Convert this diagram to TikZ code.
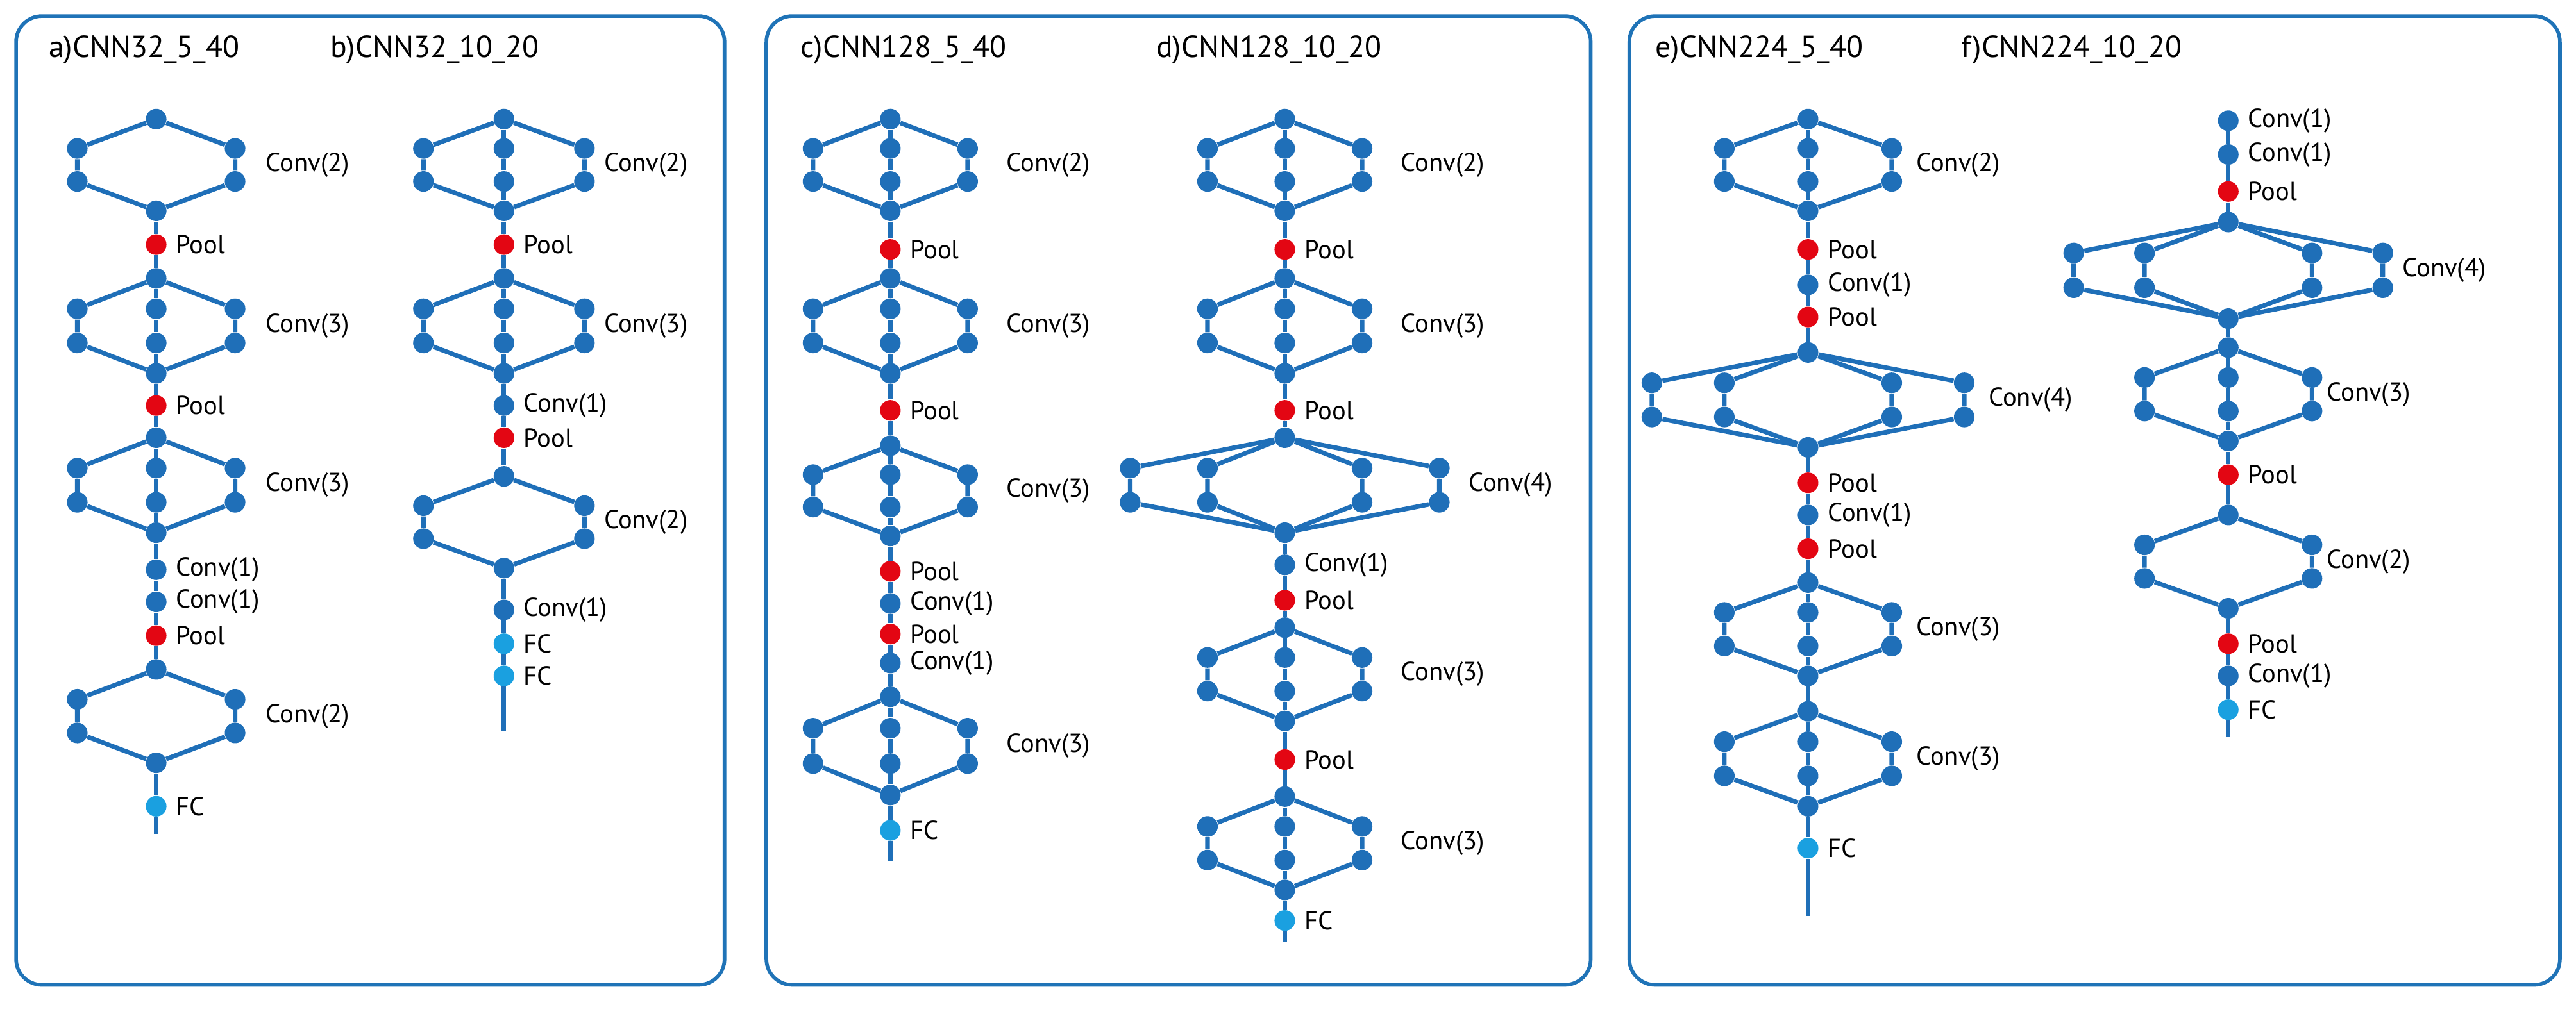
\documentclass[tikz,border=0pt]{standalone}
\usepackage{fontspec}
\setmainfont{PT Sans}
\usetikzlibrary{calc,backgrounds}
\definecolor{cb}{HTML}{1F6FB8}
\definecolor{cr}{HTML}{E30613}
\definecolor{cf}{HTML}{1AA0E0}
\definecolor{frm}{HTML}{1F73B7}
\pgfdeclarelayer{background}
\pgfsetlayers{background,main}
\tikzset{
 dot/.style={circle,fill=cb,inner sep=0,minimum size=0.32cm},
 pool/.style={dot,fill=cr},
 fc/.style={dot,fill=cf},
 edge/.style={draw=cb,line width=2pt},
 lbl/.style={inner sep=0,anchor=west,font=\fontsize{11.5}{13}\selectfont},
 ttl/.style={inner sep=0,anchor=west,font=\fontsize{13.5}{15}\selectfont},
 panel/.style={draw=frm,line width=1.6pt,rounded corners=0.4cm}
}
\def\prv{}
\newcommand\pt[5]{%
 \node[#4] (#1) at (#2,#3) {};
 \if\relax\detokenize{#5}\relax\else\node[lbl] at ($(#1)+(12,0)$) {#5};\fi
 \ifx\prv\empty\else\begin{pgfonlayer}{background}\draw[edge] (\prv) -- (#1);\end{pgfonlayer}\fi
 \xdef\prv{#1}}
% name, x, ytop, ybot, offsets, center(0/1), label, label dx
\newcommand\blk[8]{%
 \pt{#1t}{#2}{#3}{dot}{}%
 \node[dot] (#1b) at (#2,#4) {};
 \pgfmathsetmacro\ya{#3+(#4-#3)*0.32}%
 \pgfmathsetmacro\yb{#3+(#4-#3)*0.68}%
 \foreach \o [count=\i] in {#5} {
   \node[dot] (#1s\i a) at (#2+\o,\ya) {};
   \node[dot] (#1s\i b) at (#2+\o,\yb) {};
   \begin{pgfonlayer}{background}
   \draw[edge] (#1t) -- (#1s\i a) -- (#1s\i b) -- (#1b);
   \end{pgfonlayer}
 }
 \ifnum#6=1
   \node[dot] (#1ca) at (#2,\ya) {};
   \node[dot] (#1cb) at (#2,\yb) {};
   \begin{pgfonlayer}{background}\draw[edge] (#1t) -- (#1ca) -- (#1cb) -- (#1b);\end{pgfonlayer}
 \fi
 \node[lbl] at (#2+#8,{(#3+#4)/2}) {#7};
 \xdef\prv{#1b}}
\newcommand\fin[3]{\coordinate (#1) at (#2,#3);
 \begin{pgfonlayer}{background}\draw[edge] (\prv) -- (#1);\end{pgfonlayer}\gdef\prv{}}
\begin{document}
\begin{tikzpicture}[x=0.025cm,y=-0.025cm]
\useasboundingbox (0,0) rectangle (1600,635.3);
\draw[panel] (10,10) rectangle (450,612);
\draw[panel] (476,10) rectangle (988,612);
\draw[panel] (1012,10) rectangle (1590,612);
\node[ttl] at (30,31) {a)CNN32\_5\_40};
\node[ttl] at (205,31) {b)CNN32\_10\_20};
\node[ttl] at (497,31) {c)CNN128\_5\_40};
\node[ttl] at (718,31) {d)CNN128\_10\_20};
\node[ttl] at (1028,31) {e)CNN224\_5\_40};
\node[ttl] at (1218,31) {f)CNN224\_10\_20};
% a
\blk{a1}{97}{74}{131}{-49,49}{0}{Conv(2)}{68}
\pt{a2}{97}{152}{pool}{Pool}
\blk{a3}{97}{173}{232}{-49,49}{1}{Conv(3)}{68}
\pt{a4}{97}{252}{pool}{Pool}
\blk{a5}{97}{272}{331}{-49,49}{1}{Conv(3)}{68}
\pt{a6}{97}{354}{dot}{Conv(1)}
\pt{a7}{97}{374}{dot}{Conv(1)}
\pt{a8}{97}{395}{pool}{Pool}
\blk{a9}{97}{416}{474}{-49,49}{0}{Conv(2)}{68}
\pt{a10}{97}{501}{fc}{FC}
\fin{aend}{97}{518}
% b
\blk{b1}{313}{74}{131}{-50,50}{1}{Conv(2)}{62}
\pt{b2}{313}{152}{pool}{Pool}
\blk{b3}{313}{173}{232}{-50,50}{1}{Conv(3)}{62}
\pt{b4}{313}{252}{dot}{Conv(1)}
\pt{b5}{313}{272}{pool}{Pool}
\blk{b6}{313}{296}{353}{-50,50}{0}{Conv(2)}{62}
\pt{b7}{313}{379}{dot}{Conv(1)}
\pt{b8}{313}{400}{fc}{FC}
\pt{b9}{313}{420}{fc}{FC}
\fin{bend}{313}{454}
% c
\blk{c1}{553}{74}{131}{-48,48}{1}{Conv(2)}{72}
\pt{c2}{553}{155}{pool}{Pool}
\blk{c3}{553}{173}{232}{-48,48}{1}{Conv(3)}{72}
\pt{c4}{553}{255}{pool}{Pool}
\blk{c5}{553}{277}{333}{-48,48}{1}{Conv(3)}{72}
\pt{c6}{553}{355}{pool}{Pool}
\pt{c7}{553}{375}{dot}{Conv(1)}
\pt{c8}{553}{394}{pool}{Pool}
\pt{c9}{553}{412}{dot}{Conv(1)}
\blk{c10}{553}{433}{494}{-48,48}{1}{Conv(3)}{72}
\pt{c11}{553}{516}{fc}{FC}
\fin{cend}{553}{535}
% d
\blk{d1}{798}{74}{131}{-48,48}{1}{Conv(2)}{72}
\pt{d2}{798}{155}{pool}{Pool}
\blk{d3}{798}{173}{232}{-48,48}{1}{Conv(3)}{72}
\pt{d4}{798}{255}{pool}{Pool}
\blk{d5}{798}{272}{331}{-96,-48,48,96}{0}{Conv(4)}{114}
\pt{d6}{798}{351}{dot}{Conv(1)}
\pt{d7}{798}{373}{pool}{Pool}
\blk{d8}{798}{390}{448}{-48,48}{1}{Conv(3)}{72}
\pt{d9}{798}{472}{pool}{Pool}
\blk{d10}{798}{495}{553}{-48,48}{1}{Conv(3)}{72}
\pt{d11}{798}{572}{fc}{FC}
\fin{dend}{798}{585}
% e
\blk{e1}{1123}{74}{131}{-52,52}{1}{Conv(2)}{67}
\pt{e2}{1123}{155}{pool}{Pool}
\pt{e3}{1123}{177}{dot}{Conv(1)}
\pt{e4}{1123}{197}{pool}{Pool}
\blk{e5}{1123}{219}{278}{-97,-52,52,97}{0}{Conv(4)}{112}
\pt{e6}{1123}{300}{pool}{Pool}
\pt{e7}{1123}{320}{dot}{Conv(1)}
\pt{e8}{1123}{341}{pool}{Pool}
\blk{e9}{1123}{362}{420}{-52,52}{1}{Conv(3)}{67}
\blk{e10}{1123}{442}{501}{-52,52}{1}{Conv(3)}{67}
\pt{e11}{1123}{527}{fc}{FC}
\fin{eend}{1123}{569}
% f
\pt{f1}{1384}{75}{dot}{Conv(1)}
\pt{f2}{1384}{96}{dot}{Conv(1)}
\pt{f3}{1384}{119}{pool}{Pool}
\blk{f4}{1384}{138}{198}{-96,-52,52,96}{0}{Conv(4)}{108}
\blk{f5}{1384}{216}{274}{-52,52}{1}{Conv(3)}{61}
\pt{f6}{1384}{295}{pool}{Pool}
\blk{f7}{1384}{320}{378}{-52,52}{0}{Conv(2)}{61}
\pt{f8}{1384}{400}{pool}{Pool}
\pt{f9}{1384}{420}{dot}{Conv(1)}
\pt{f10}{1384}{441}{fc}{FC}
\fin{fend}{1384}{458}
\end{tikzpicture}
\end{document}
